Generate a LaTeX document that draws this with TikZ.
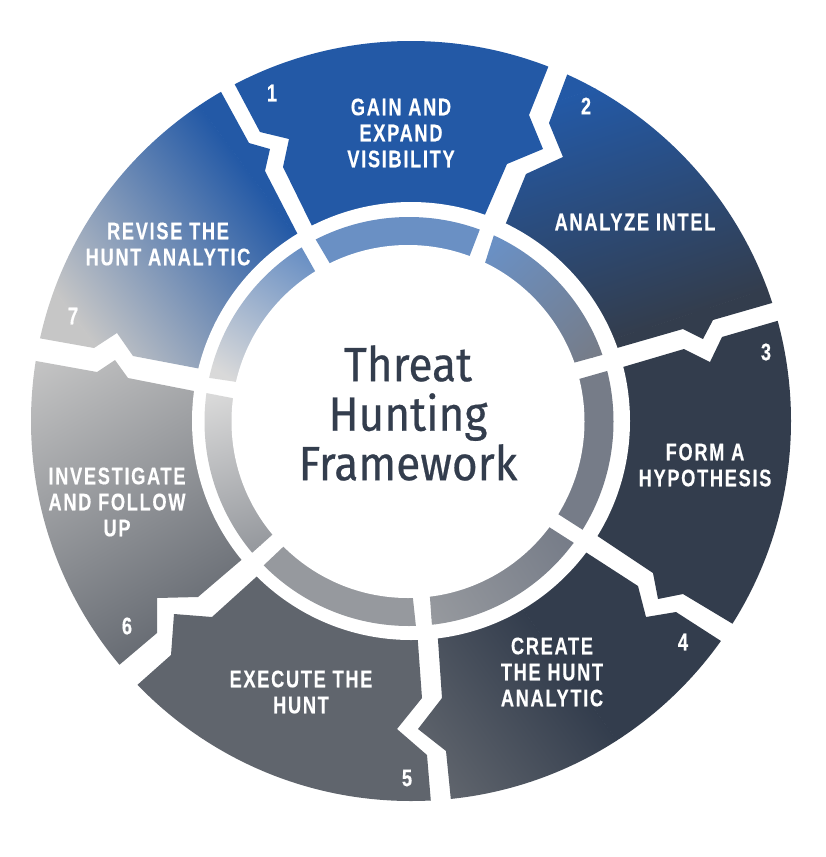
\documentclass[tikz,border=0pt]{standalone}
\usepackage{fontspec}
\usetikzlibrary{calc}
\newfontfamily\labfont{Liberation Sans}[FakeStretch=0.76,LetterSpace=7,BoldFeatures={FakeBold=0.35}]
\newfontfamily\ttlfont{Fira Sans}[FakeStretch=0.92,FakeBold=0.5]
\definecolor{cblue}{HTML}{2359A6}
\definecolor{cnavy}{HTML}{333D4D}
\definecolor{cslate}{HTML}{60656D}
\definecolor{clight}{HTML}{C6C6C6}
\definecolor{rblue}{HTML}{6A90C4}
\definecolor{rnavy}{HTML}{767C88}
\definecolor{rslate}{HTML}{96999E}
\definecolor{rlight}{HTML}{D9D9D9}
\tikzset{
  steplabel/.style={text=white,font=\labfont\bfseries\fontsize{24}{26}\selectfont,align=center,inner sep=0pt},
  stepnum/.style={text=white,font=\labfont\bfseries\fontsize{24}{26}\selectfont,inner sep=0pt},
  titlelabel/.style={text=cnavy,font=\ttlfont\fontsize{48}{49.5}\selectfont,align=center,inner sep=0pt},
}
\newcommand\gradfill[7]{%
  \begin{scope}
    \clip #1;
    \pgfmathsetmacro\gdang{atan2(-(#5-#3),#4-#2)}
    \pgfmathsetmacro\gdlen{veclen(#4-#2,#5-#3)}
    \begin{scope}[transform canvas={shift={(#2,#3)},rotate=\gdang}]
      \fill[#6] (-1500,-1500) rectangle (0.4,1500);
      \fill[#7] (\gdlen-0.4,-1500) rectangle (\gdlen+1500,1500);
      \shade[left color=#6,right color=#7] (0,-1500) rectangle (\gdlen,1500);
    \end{scope}
  \end{scope}}
% ring wedge path: outer1 inner1 outer2 inner2
\newcommand\wedgepath[4]{($(#2)!2.5!(#1)$) -- ($(#4)!2.5!(#3)$) -- ($(#3)!1.5!(#4)$) -- ($(#1)!1.5!(#2)$) -- cycle}
\begin{document}
\begin{tikzpicture}[x=1pt,y=-1pt]
\useasboundingbox (0,0) rectangle (826,857);
\clip (0,0) rectangle (826,857);
\coordinate (c) at (411,421);
\coordinate (cr) at (409,421.5);
\coordinate (ci) at (408,421.5);
% outer band
\begin{scope}
\clip (c) circle (380);
% 1
\fill[cblue] (195,10) -- (234,83) -- (260,132) -- (289,139) -- (283,167) -- (311,224) -- (325,252) -- (472,243) -- (484,217) -- (507,164) -- (543,149) -- (529,115) -- (547,70) -- (574,3) -- cycle;
% 2
\gradfill{(594,3) -- (549,123) -- (563,157) -- (526,174) -- (506,223) -- (496,247) -- (584,358) -- (617,348) -- (683,329) -- (703,339) -- (713,320) -- (772,303) -- (860,277) -- cycle}{560}{100}{636}{332}{cblue}{cnavy}
% 3
\fill[cnavy] (860,297) -- (777,321) -- (722,337) -- (710,362) -- (684,349) -- (623,367) -- (592,376) -- (572,519) -- (599,537) -- (653,573) -- (658,599) -- (683,594) -- (733,624) -- (833,684) -- cycle;
% 4
\gradfill{(811,699) -- (721,641) -- (676,612) -- (646,617) -- (638,586) -- (587,553) -- (561,536) -- (436,611) -- (438,640) -- (442,698) -- (418,729) -- (446,751) -- (451,801) -- (458,876) -- cycle}{540}{633}{402}{732}{cnavy}{cslate}
% 5
\fill[cslate] (416,615) -- (418,643) -- (422,698) -- (397,729) -- (427,755) -- (431,803) -- (437,875) -- (45,767) -- (135,687) -- (171,655) -- (174,614) -- (212,617) -- (254,579) -- (275,560) -- cycle;
% 6
\gradfill{(260,544) -- (239,562) -- (198,597) -- (157,598) -- (157,633) -- (118,666) -- (27,738) -- (-55,344) -- (36,361) -- (97,372) -- (115,360) -- (128,378) -- (194,391) -- (227,397) -- cycle}{201}{645}{35}{355}{cslate}{clight}
% 7
\gradfill{(-46,323) -- (38,338) -- (94,348) -- (117,333) -- (133,356) -- (196,368) -- (227,374) -- (311,261) -- (296,231) -- (265,171) -- (270,149) -- (249,143) -- (220,90) -- (176,10) -- cycle}{80}{325}{262}{190}{clight}{cblue}
\end{scope}
\fill[white] (c) circle (219);
% inner ring
\begin{scope}
\clip (cr) circle (204.5);
\coordinate (a1) at (316,240); \coordinate (a2) at (329,262); \coordinate (a3) at (480,229); \coordinate (a4) at (470,255);
\fill[rblue] \wedgepath{a1}{a2}{a3}{a4};
\coordinate (b1) at (493,238); \coordinate (b2) at (485,263); \coordinate (b3) at (602,355); \coordinate (b4) at (573,363);
\gradfill{\wedgepath{b1}{b2}{b3}{b4}}{490}{250}{590}{360}{rblue}{rnavy}
\coordinate (d1) at (607,371); \coordinate (d2) at (579,379); \coordinate (d3) at (583,530); \coordinate (d4) at (558,514);
\fill[rnavy] \wedgepath{d1}{d2}{d3}{d4};
\coordinate (e1) at (574,543); \coordinate (e2) at (549,527); \coordinate (e3) at (432,626); \coordinate (e4) at (430,598);
\gradfill{\wedgepath{e1}{e2}{e3}{e4}}{565}{530}{430}{615}{rnavy}{rslate}
\coordinate (f1) at (416,627); \coordinate (f2) at (413,599); \coordinate (f3) at (263,566); \coordinate (f4) at (282,548);
\fill[rslate] \wedgepath{f1}{f2}{f3}{f4};
\coordinate (g1) at (253,552); \coordinate (g2) at (272,535); \coordinate (g3) at (206,393); \coordinate (g4) at (232,398);
\gradfill{\wedgepath{g1}{g2}{g3}{g4}}{262}{545}{215}{395}{rslate}{rlight}
\coordinate (h1) at (210,378); \coordinate (h2) at (237,382); \coordinate (h3) at (302,248); \coordinate (h4) at (315,271);
\gradfill{\wedgepath{h1}{h2}{h3}{h4}}{225}{375}{305}{255}{rlight}{rblue}
\end{scope}
\fill[white] (ci) circle (176.5);
% labels
\node[titlelabel] (title) at (408,413) {Threat\\Hunting\\Framework};
\node[stepnum] (n1) at (272,93) {1};
\node[stepnum] (n2) at (586,106) {2};
\node[stepnum] (n3) at (766,352) {3};
\node[stepnum] (n4) at (683,642) {4};
\node[stepnum] (n5) at (407,778) {5};
\node[stepnum] (n6) at (127,626) {6};
\node[stepnum] (n7) at (73,316) {7};
\node[steplabel] (s1) at (401,133) {GAIN AND\\EXPAND\\VISIBILITY};
\node[steplabel] (s2) at (635,222) {ANALYZE INTEL};
\node[steplabel] (s3) at (705,465) {FORM A\\HYPOTHESIS};
\node[steplabel] (s4) at (552,672) {CREATE\\THE HUNT\\ANALYTIC};
\node[steplabel] (s5) at (301,692) {EXECUTE THE\\HUNT};
\node[steplabel] (s6) at (117,502) {INVESTIGATE\\AND FOLLOW\\UP};
\node[steplabel] (s7) at (168,244) {REVISE THE\\HUNT ANALYTIC};
\end{tikzpicture}
\end{document}
